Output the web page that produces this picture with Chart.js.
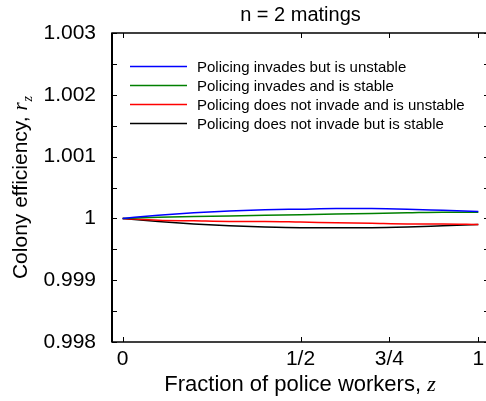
<!DOCTYPE html>
<html>
<head>
<meta charset="utf-8">
<script src="https://cdn.jsdelivr.net/npm/chart.js@4"></script>
<style>
  html, body { margin: 0; padding: 0; background: #fff; overflow: hidden; }
  #wrap { width: 486px; height: 401px; overflow: hidden; }
</style>
</head>
<body>
<div id="wrap"><canvas id="chart" width="492" height="401"></canvas></div>
<script>
// Daten
const zWerte = [0, 0.1, 0.2, 0.3, 0.4, 0.5, 0.6, 0.7, 0.8, 0.9, 1];
const invadesUnstable = [1, 1.00005, 1.00009, 1.00012, 1.00014, 1.00015, 1.00016, 1.00016, 1.00015, 1.00013, 1.00011];
const invadesStable = [1, 1.00002, 1.00003, 1.00004, 1.00005, 1.00006, 1.00007, 1.00008, 1.00009, 1.0001, 1.0001];
const notInvadeUnstable = [1, 0.99997, 0.99996, 0.99995, 0.99995, 0.99994, 0.99993, 0.99992, 0.99991, 0.99991, 0.9999];
const notInvadeStable = [1, 0.99995, 0.99991, 0.99988, 0.99986, 0.99985, 0.99985, 0.99985, 0.99986, 0.99988, 0.9999];

const serienNamen = [
  'Policing invades but is unstable',
  'Policing invades and is stable',
  'Policing does not invade and is unstable',
  'Policing does not invade but is stable'
];
const serienFarben = ['#0000ff', '#008000', '#ff0000', '#000000'];

const xTickWerte = [0, 0.5, 0.75, 1];
const xTickLabels = ['0', '1/2', '3/4', '1'];
const yTickWerte = [0.998, 0.999, 1, 1.001, 1.002, 1.003];
const yTickLabels = ['0.998', '0.999', '1', '1.001', '1.002', '1.003'];
const yMinorWerte = [0.9985, 0.9995, 1.0005, 1.0015, 1.0025];

const titel = 'n = 2 matings';
const sans = "'Liberation Sans', Arial, sans-serif";
const serif = "'Liberation Serif', 'Times New Roman', serif";

function punkte(werte) {
  return zWerte.map((z, i) => ({ x: z, y: werte[i] }));
}

const alleSerien = [invadesUnstable, invadesStable, notInvadeUnstable, notInvadeStable];

// Rahmen, Ticks nach innen, Legende, Titel und Achsentitel
const extras = {
  id: 'extras',
  afterDraw(chart) {
    const ctx = chart.ctx;
    const a = chart.chartArea;
    const xs = chart.scales.x;
    const ys = chart.scales.y;
    ctx.save();
    ctx.strokeStyle = '#000';

    // Ticks
    ctx.lineWidth = 1;
    const tl = 5;
    xTickWerte.forEach(v => {
      const px = Math.round(xs.getPixelForValue(v)) + 0.5;
      ctx.beginPath();
      ctx.moveTo(px, a.bottom); ctx.lineTo(px, a.bottom - tl);
      ctx.moveTo(px, a.top); ctx.lineTo(px, a.top + tl);
      ctx.stroke();
    });
    yTickWerte.concat(yMinorWerte).forEach(v => {
      const py = Math.round(ys.getPixelForValue(v)) + 0.5;
      ctx.beginPath();
      ctx.moveTo(a.left, py); ctx.lineTo(a.left + tl, py);
      ctx.moveTo(a.right, py); ctx.lineTo(a.right - tl, py);
      ctx.stroke();
    });

    // Rahmen
    ctx.lineWidth = 1.5;
    ctx.strokeRect(a.left, a.top, a.right - a.left, a.bottom - a.top);
    ctx.lineWidth = 2;
    ctx.beginPath();
    ctx.moveTo(a.left, a.top); ctx.lineTo(a.left, a.bottom);
    ctx.stroke();

    // Legende
    ctx.font = '15px ' + sans;
    ctx.textBaseline = 'middle';
    ctx.textAlign = 'left';
    chart.data.datasets.forEach((ds, i) => {
      const y = 66.5 + i * 19;
      ctx.strokeStyle = ds.borderColor;
      ctx.lineWidth = 1.5;
      ctx.beginPath();
      ctx.moveTo(130, y); ctx.lineTo(187, y);
      ctx.stroke();
      ctx.fillStyle = '#000';
      ctx.fillText(ds.label, 197, y + 1);
    });

    // Titel
    ctx.fillStyle = '#000';
    ctx.font = '20px ' + sans;
    ctx.textAlign = 'center';
    ctx.textBaseline = 'alphabetic';
    ctx.fillText(titel, (a.left + a.right) / 2, 21);

    // x-Achsentitel
    const xText = 'Fraction of police workers, ';
    ctx.font = '22px ' + sans;
    const w1 = ctx.measureText(xText).width;
    ctx.font = 'italic 22px ' + serif;
    const w2 = ctx.measureText('z').width;
    let x0 = 300 - (w1 + w2) / 2;
    ctx.textAlign = 'left';
    ctx.font = '22px ' + sans;
    ctx.fillText(xText, x0, 391);
    ctx.font = 'italic 22px ' + serif;
    ctx.fillText('z', x0 + w1, 391);

    // y-Achsentitel
    const yText = 'Colony efficiency, ';
    ctx.translate(27, 188);
    ctx.rotate(-Math.PI / 2);
    ctx.font = '21px ' + sans;
    const v1 = ctx.measureText(yText).width;
    ctx.font = 'italic 21px ' + serif;
    const v2 = ctx.measureText('r').width;
    ctx.font = 'italic 14px ' + serif;
    const v3 = ctx.measureText('z').width;
    let s = -(v1 + v2 + v3) / 2;
    ctx.font = '21px ' + sans;
    ctx.fillText(yText, s, 0);
    ctx.font = 'italic 21px ' + serif;
    ctx.fillText('r', s + v1, 0);
    ctx.font = 'italic 14px ' + serif;
    ctx.fillText('z', s + v1 + v2 + 1, 5);

    ctx.restore();
  }
};

new Chart(document.getElementById('chart').getContext('2d'), {
  type: 'line',
  data: {
    datasets: alleSerien.map((werte, i) => ({
      label: serienNamen[i],
      data: punkte(werte),
      borderColor: serienFarben[i],
      borderWidth: 1.5,
      pointRadius: 0,
      tension: 0.4,
      cubicInterpolationMode: 'monotone',
      fill: false
    }))
  },
  options: {
    responsive: false,
    animation: false,
    layout: { padding: { top: 33, right: 3, left: 0, bottom: 0 } },
    plugins: {
      legend: { display: false },
      title: { display: false },
      tooltip: { enabled: false }
    },
    scales: {
      x: {
        type: 'linear',
        min: -0.03,
        max: 1.03,
        grid: { display: false },
        border: { display: false },
        afterBuildTicks: scale => { scale.ticks = xTickWerte.map(v => ({ value: v })); },
        afterFit: scale => { scale.height = 59; },
        ticks: {
          padding: -3,
          color: '#000',
          font: { family: sans, size: 21 },
          maxRotation: 0,
          callback: v => xTickLabels[xTickWerte.indexOf(v)]
        }
      },
      y: {
        min: 0.998,
        max: 1.003,
        grid: { display: false },
        border: { display: false },
        afterBuildTicks: scale => { scale.ticks = yTickWerte.map(v => ({ value: v })); },
        afterFit: scale => { scale.width = 112; },
        ticks: {
          padding: 8,
          color: '#000',
          font: { family: sans, size: 21 },
          callback: v => yTickLabels[yTickWerte.indexOf(v)]
        }
      }
    }
  },
  plugins: [extras]
});
</script>
</body>
</html>
